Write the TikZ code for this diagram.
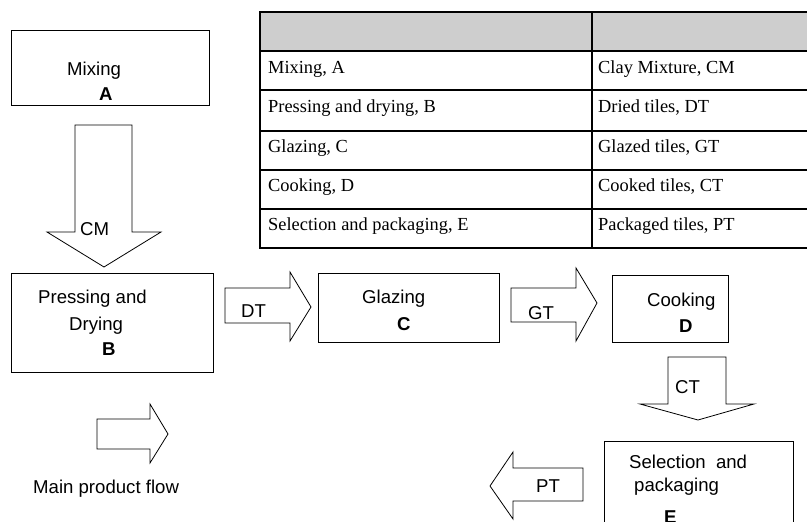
\documentclass[tikz,border=0pt]{standalone}
\usepackage{fontspec}
\setmainfont{Liberation Serif}
\newfontfamily\arialf{Liberation Sans}
\begin{document}
\begin{tikzpicture}[x=1pt,y=-1pt,
  box/.style={draw=black, line width=0.8pt, inner sep=0pt, outer sep=0pt, anchor=north west},
  lbl/.style={inner sep=0pt, anchor=base west, font=\arialf\fontsize{18.6}{21}\selectfont},
  blbl/.style={inner sep=0pt, anchor=base west, font=\arialf\bfseries\fontsize{18.6}{21}\selectfont},
  tlbl/.style={inner sep=0pt, anchor=base west, font=\fontsize{18.4}{21}\selectfont},
  blockarrow/.style={draw=black, line width=0.8pt, fill=white, line join=miter},
  tline/.style={line width=1.6pt}
]
\useasboundingbox (0,0) rectangle (807,522);
\clip (0,0) rectangle (807,522);

% ---- table ----
\fill[fill={rgb,255:red,206;green,206;blue,206}] (260,12) rectangle (810,51);
\foreach \yy in {12,51,90,131,170,209,248}{
  \draw[tline] (259,\yy) -- (810,\yy);
}
\draw[tline] (260,12) -- (260,248);
\draw[tline] (592,12) -- (592,248);
\node[tlbl] (t1a) at (268,73) {Mixing, A};
\node[tlbl] (t2a) at (268,112) {Pressing and drying, B};
\node[tlbl] (t3a) at (268,152) {Glazing, C};
\node[tlbl] (t4a) at (268,191) {Cooking, D};
\node[tlbl] (t5a) at (268,230) {Selection and packaging, E};
\node[tlbl] (t1b) at (598,73) {Clay Mixture, CM};
\node[tlbl] (t2b) at (598,112) {Dried tiles, DT};
\node[tlbl] (t3b) at (598,152) {Glazed tiles, GT};
\node[tlbl] (t4b) at (598,191) {Cooked tiles, CT};
\node[tlbl] (t5b) at (598,230) {Packaged tiles, PT};

% ---- process boxes ----
\node[box, minimum width=198pt, minimum height=75pt] (A) at (11,30) {};
\node[lbl] (A1) at (67,75) {Mixing};
\node[blbl] (A2) at (99,100) {A};

\node[box, minimum width=202pt, minimum height=99pt] (B) at (11,273) {};
\node[lbl] (B1) at (38,303) {Pressing and};
\node[lbl] (B2) at (69,330) {Drying};
\node[blbl] (B3) at (102,355) {B};

\node[box, minimum width=181pt, minimum height=69pt] (C) at (318,273) {};
\node[lbl] (C1) at (362,303) {Glazing};
\node[blbl] (C2) at (397,330) {C};

\node[box, minimum width=116pt, minimum height=67pt] (D) at (612,275) {};
\node[lbl] (D1) at (647,306) {Cooking};
\node[blbl] (D2) at (679,332) {D};

\node[box, minimum width=189pt, minimum height=100pt] (E) at (604,441) {};
\node[lbl] (E1) at (629,468) {Selection\ \ and};
\node[lbl] (E2) at (634,491) {packaging};
\node[blbl] (E3) at (664,523) {E};

% ---- block arrows ----
% CM (A -> B)
\draw[blockarrow] (75,125) -- (132,125) -- (132,232) -- (161,232) -- (104,267) -- (47,232) -- (75,232) -- cycle;
\node[lbl] (CM) at (80,235) {CM};
% DT (B -> C)
\draw[blockarrow] (225,288) -- (290,288) -- (290,272) -- (311,307) -- (290,341) -- (290,323) -- (225,323) -- cycle;
\node[lbl] (DT) at (241,317) {DT};
% GT (C -> D)
\draw[blockarrow] (511,288) -- (576,288) -- (576,268) -- (597,303) -- (576,341) -- (576,322) -- (511,322) -- cycle;
\node[lbl] (GT) at (528,319) {GT};
% CT (D -> E)
\draw[blockarrow] (668,357) -- (726,357) -- (726,404) -- (754,404) -- (698,420) -- (640,404) -- (668,404) -- cycle;
\node[lbl] (CT) at (675,393) {CT};
% PT (out of E)
\draw[blockarrow] (583,468) -- (583,501) -- (513,501) -- (513,519) -- (490,486) -- (513,452) -- (513,468) -- cycle;
\node[lbl] (PT) at (536,492) {PT};

% ---- legend ----
\draw[blockarrow] (97,419) -- (150,419) -- (150,404) -- (168,434) -- (150,463) -- (150,449) -- (97,449) -- cycle;
\node[lbl] (leg) at (33,493) {Main product flow};
\end{tikzpicture}
\end{document}
